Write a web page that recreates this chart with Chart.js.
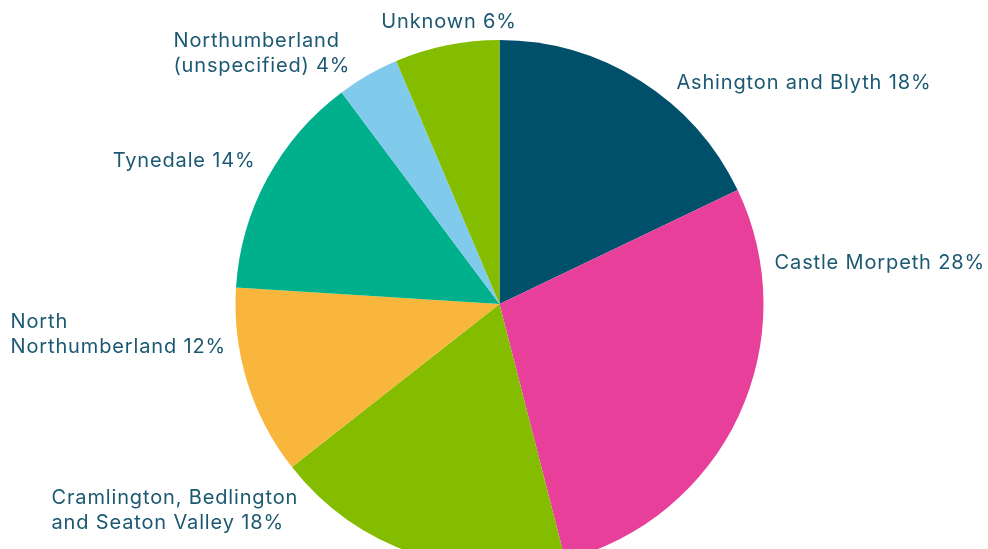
<!DOCTYPE html>
<html>
<head>
<meta charset="utf-8">
<script src="https://cdn.jsdelivr.net/npm/chart.js@4.4.0/dist/chart.umd.min.js"></script>
<style>
  html, body { margin: 0; padding: 0; background: #fff; overflow: hidden; }
  #wrap { position: relative; width: 988px; height: 590px; }
</style>
</head>
<body>
<div id="wrap"><canvas id="myChart"></canvas></div>
<script>
const areas = [
  'Ashington and Blyth',
  'Castle Morpeth',
  'Cramlington, Bedlington and Seaton Valley',
  'North Northumberland',
  'Tynedale',
  'Northumberland (unspecified)',
  'Unknown'
];
const shares = [17.9, 28.1, 18.4, 11.6, 13.8, 3.8, 6.4];
const labelLines = [
  ['Ashington and Blyth 18%'],
  ['Castle Morpeth 28%'],
  ['Cramlington, Bedlington', 'and Seaton Valley 18%'],
  ['North', 'Northumberland 12%'],
  ['Tynedale 14%'],
  ['Northumberland', '(unspecified) 4%'],
  ['Unknown 6%']
];
const colours = ['#00506b', '#e8409a', '#84bd00', '#f8b73c', '#00b08c', '#80caec', '#84bd00'];

// where each label sits, in radius units from the pie centre (first baseline)
const labelSpots = [
  { x: 0.670, y: -0.813, align: 'left' },
  { x: 1.042, y: -0.131, align: 'left' },
  { x: -1.697, y: 0.759, align: 'left' },
  { x: -1.852, y: 0.092, align: 'left' },
  { x: -0.924, y: -0.520, align: 'right' },
  { x: -1.235, y: -0.975, align: 'left' },
  { x: -0.191, y: -1.044, align: 'center' }
];

const outsideLabels = {
  id: 'outsideLabels',
  afterDraw(chart) {
    const ctx = chart.ctx;
    const arc = chart.getDatasetMeta(0).data[0];
    const cx = arc.x, cy = arc.y, r = arc.outerRadius;
    ctx.save();
    ctx.font = '20px Inter';
    ctx.letterSpacing = '0.85px';
    ctx.fillStyle = '#1b5871';
    ctx.textBaseline = 'alphabetic';
    labelLines.forEach((lines, i) => {
      const s = labelSpots[i];
      ctx.textAlign = s.align;
      lines.forEach((t, j) => {
        ctx.fillText(t, cx + s.x * r, cy + s.y * r + j * 25);
      });
    });
    ctx.restore();
  }
};

const ctx = document.getElementById('myChart');
new Chart(ctx, {
  type: 'pie',
  data: {
    labels: areas,
    datasets: [{
      data: shares,
      backgroundColor: colours,
      borderWidth: 0
    }]
  },
  options: {
    responsive: true,
    maintainAspectRatio: false,
    animation: false,
    layout: { padding: { top: 40, bottom: 22, left: 11, right: 0 } },
    plugins: {
      legend: { display: false },
      tooltip: { enabled: false }
    }
  },
  plugins: [outsideLabels]
});
</script>
</body>
</html>
